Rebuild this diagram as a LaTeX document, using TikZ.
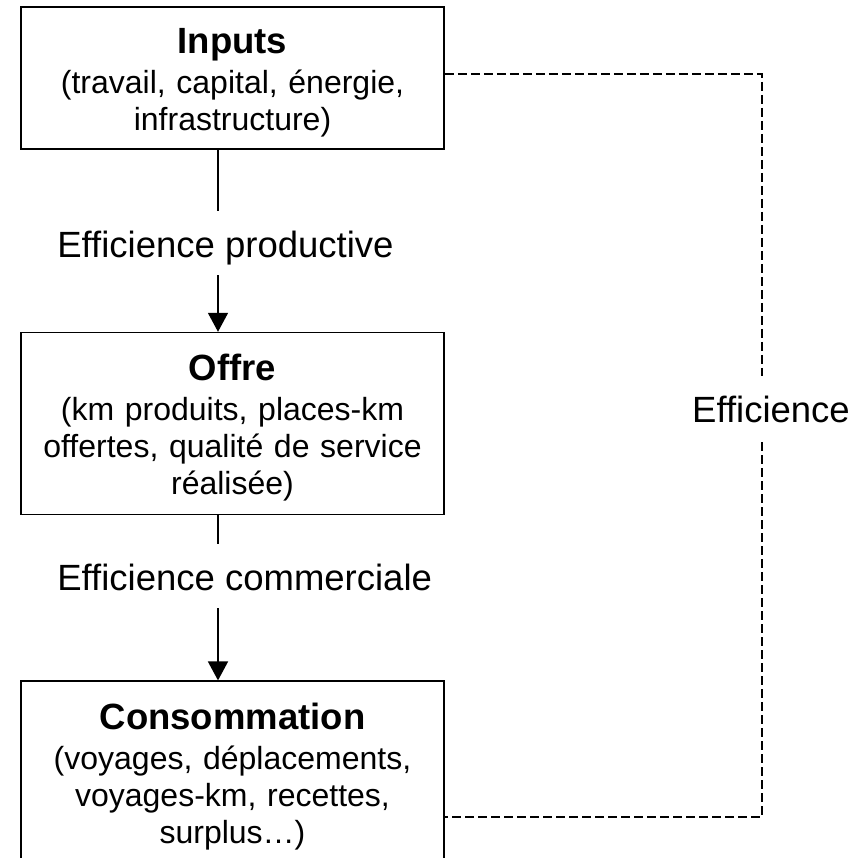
\documentclass[tikz,border=0pt]{standalone}
\usepackage{fontspec}
\setmainfont{Liberation Sans}
\usetikzlibrary{arrows.meta,positioning}

\newcommand{\boxtitle}[1]{{\fontsize{18.25}{20}\bfseries\rule{0pt}{17.6pt}#1}\\[1.5pt]}

\begin{document}
\begin{tikzpicture}[x=0.5pt, y=-0.5pt,
    box/.style={draw, line width=0.8pt, minimum width=211.5pt, text width=205pt, align=center, inner sep=0pt, font=\fontsize{16}{18.5}\selectfont},
    lbl/.style={inner sep=0pt, text height=23pt, text depth=9pt, font=\fontsize{18.25}{19}\selectfont},
    flow/.style={line width=0.8pt},
    loop/.style={line width=0.85pt, dash pattern=on 4.5pt off 2pt}]

    \clip (0,0) rectangle (867,857);

    % boxes
    \node[box, minimum height=71pt] (inputs) at (232.5,78) {\boxtitle{Inputs}(travail, capital, énergie,\\infrastructure)};
    \node[box, minimum height=91pt, below=91pt of inputs] (offre) {\boxtitle{Offre}(km produits, places-km\\offertes, qualité de service\\réalisée)};
    \node[box, minimum height=91pt, below=82.5pt of offre] (conso) {\boxtitle{Consommation}(voyages, déplacements,\\voyages-km, recettes,\\surplus…)};

    % labels
    \node[lbl, anchor=base west] (prod) at (57,257) {Efficience productive};
    \node[lbl, anchor=base west] (comm) at (57,590) {Efficience commerciale};
    \node[lbl, anchor=base, text depth=10pt] (global) at (771,422) {Efficience};

    \coordinate (trunk) at (218,0);
    \coordinate (rail) at (762,0);

    % arrows
    \draw[flow] (inputs.south -| trunk) -- (prod.north -| trunk);
    \draw[flow, -{Triangle[length=9.5pt, width=10pt]}] (prod.south -| trunk) -- (offre.north -| trunk);
    \draw[flow] (offre.south -| trunk) -- (comm.north -| trunk);
    \draw[flow, -{Triangle[length=9.5pt, width=10pt]}] (comm.south -| trunk) -- (conso.north -| trunk);

    % dashed loop
    \draw[loop] ([yshift=2pt]inputs.east) -| (global.north -| rail);
    \draw[loop] (global.south -| rail) |- ([yshift=-22.5pt]conso.east);

\end{tikzpicture}
\end{document}
